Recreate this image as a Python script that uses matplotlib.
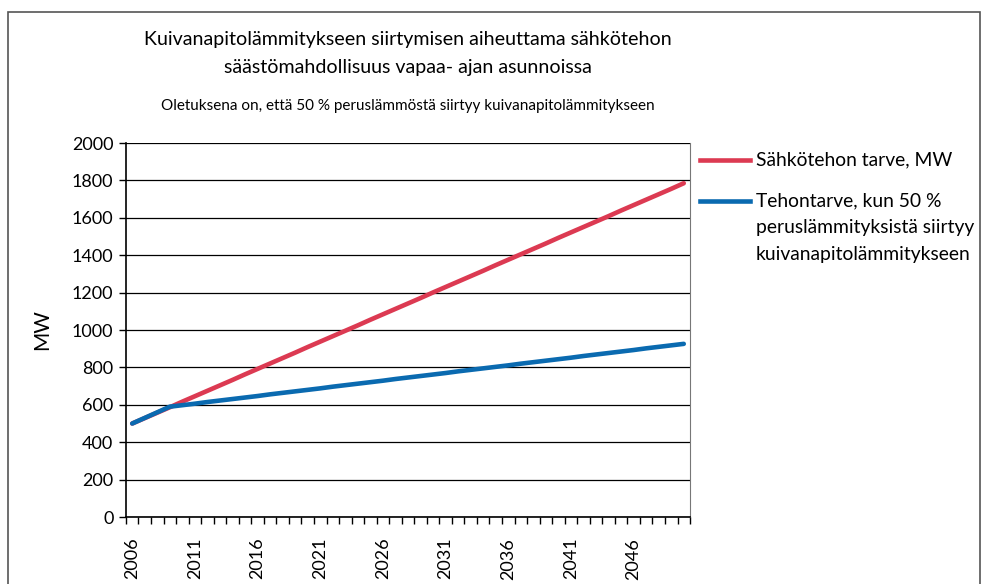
import matplotlib.pyplot as plt
from matplotlib.patches import Rectangle
from matplotlib.lines import Line2D

years = list(range(2006, 2051))
tarve = [500, 529, 558, 587, 617, 646, 675, 704, 733, 763,
         792, 821, 850, 879, 909, 938, 967, 996, 1025, 1055,
         1084, 1113, 1142, 1171, 1201, 1230, 1259, 1288, 1317, 1347,
         1376, 1405, 1434, 1463, 1493, 1522, 1551, 1580, 1609, 1639,
         1668, 1697, 1726, 1755, 1785]
tehontarve_50 = [500, 530, 560, 590,
                 598, 606, 615, 623, 631, 639, 647, 656, 664, 672,
                 680, 688, 697, 705, 713, 721, 729, 738, 746, 754,
                 762, 770, 779, 787, 795, 803, 811, 820, 828, 836,
                 844, 852, 861, 869, 877, 885, 893, 902, 910, 918,
                 926]
label_years = [2006, 2011, 2016, 2021, 2026, 2031, 2036, 2041, 2046]
red = '#DC3A52'
blue = '#0A6AB0'

plt.rcParams['font.family'] = ['Lato', 'DejaVu Sans']

W, H = 981, 584
fig = plt.figure(figsize=(9.81, 5.84), dpi=100)
ax = fig.add_axes([0.1284, 0.1147, 0.575, 0.6404])

x = list(range(len(years)))
ax.plot(x, tarve, color=red, lw=3.3, solid_capstyle='round', zorder=3)
ax.plot(x, tehontarve_50, color=blue, lw=3.3, solid_capstyle='round', zorder=4)

ax.set_xlim(-0.5, len(years) - 0.5)
ax.set_ylim(0, 2000)
ax.set_yticks(range(0, 2001, 200))
ax.yaxis.grid(True, color='black', lw=0.9)
ax.set_axisbelow(True)

ax.set_xticks([years.index(y) for y in label_years])
ax.set_xticklabels([str(y) for y in label_years], rotation=90)
ax.set_xticks([i - 0.5 for i in range(len(years) + 1)], minor=True)
ax.tick_params(axis='x', which='major', length=0, pad=15, labelsize=13)
ax.tick_params(axis='x', which='minor', length=5, width=1, direction='out')
ax.tick_params(axis='y', length=5, width=1, labelsize=13, pad=4)

ax.spines['top'].set_visible(False)
ax.spines['right'].set_color('#777777')
for s in ['left', 'bottom']:
    ax.spines[s].set_linewidth(1.2)

ax.set_ylabel('MW', fontsize=15, labelpad=14)

# legend drawn by hand so the handle sits on the first text line
legend_items = [
    (red, 160, 'Sähkötehon tarve, MW'),
    (blue, 201, 'Tehontarve, kun 50 %\nperuslämmityksistä siirtyy\nkuivanapitolämmitykseen'),
]
for col, ypx, txt in legend_items:
    yf = 1 - ypx / H
    fig.add_artist(Line2D([700 / W, 750 / W], [yf, yf], color=col, lw=3.3,
                          transform=fig.transFigure))
    fig.text(756 / W, yf + 0.0145, txt, ha='left', va='top', fontsize=13.9,
             linespacing=1.68)

fig.text(0.416, 0.908, 'Kuivanapitolämmitykseen siirtymisen aiheuttama sähkötehon\nsäästömahdollisuus vapaa- ajan asunnoissa',
         ha='center', va='center', fontsize=14.1, linespacing=1.75)
fig.text(0.416, 0.8185, 'Oletuksena on, että 50 % peruslämmöstä siirtyy kuivanapitolämmitykseen',
         ha='center', va='center', fontsize=11)

fig.patches.append(Rectangle((8 / W, -0.1), 972 / W, 1.1 - 12 / H,
                             transform=fig.transFigure, fill=False,
                             edgecolor='#555555', lw=1.2))

fig.savefig('out.png', dpi=100)
